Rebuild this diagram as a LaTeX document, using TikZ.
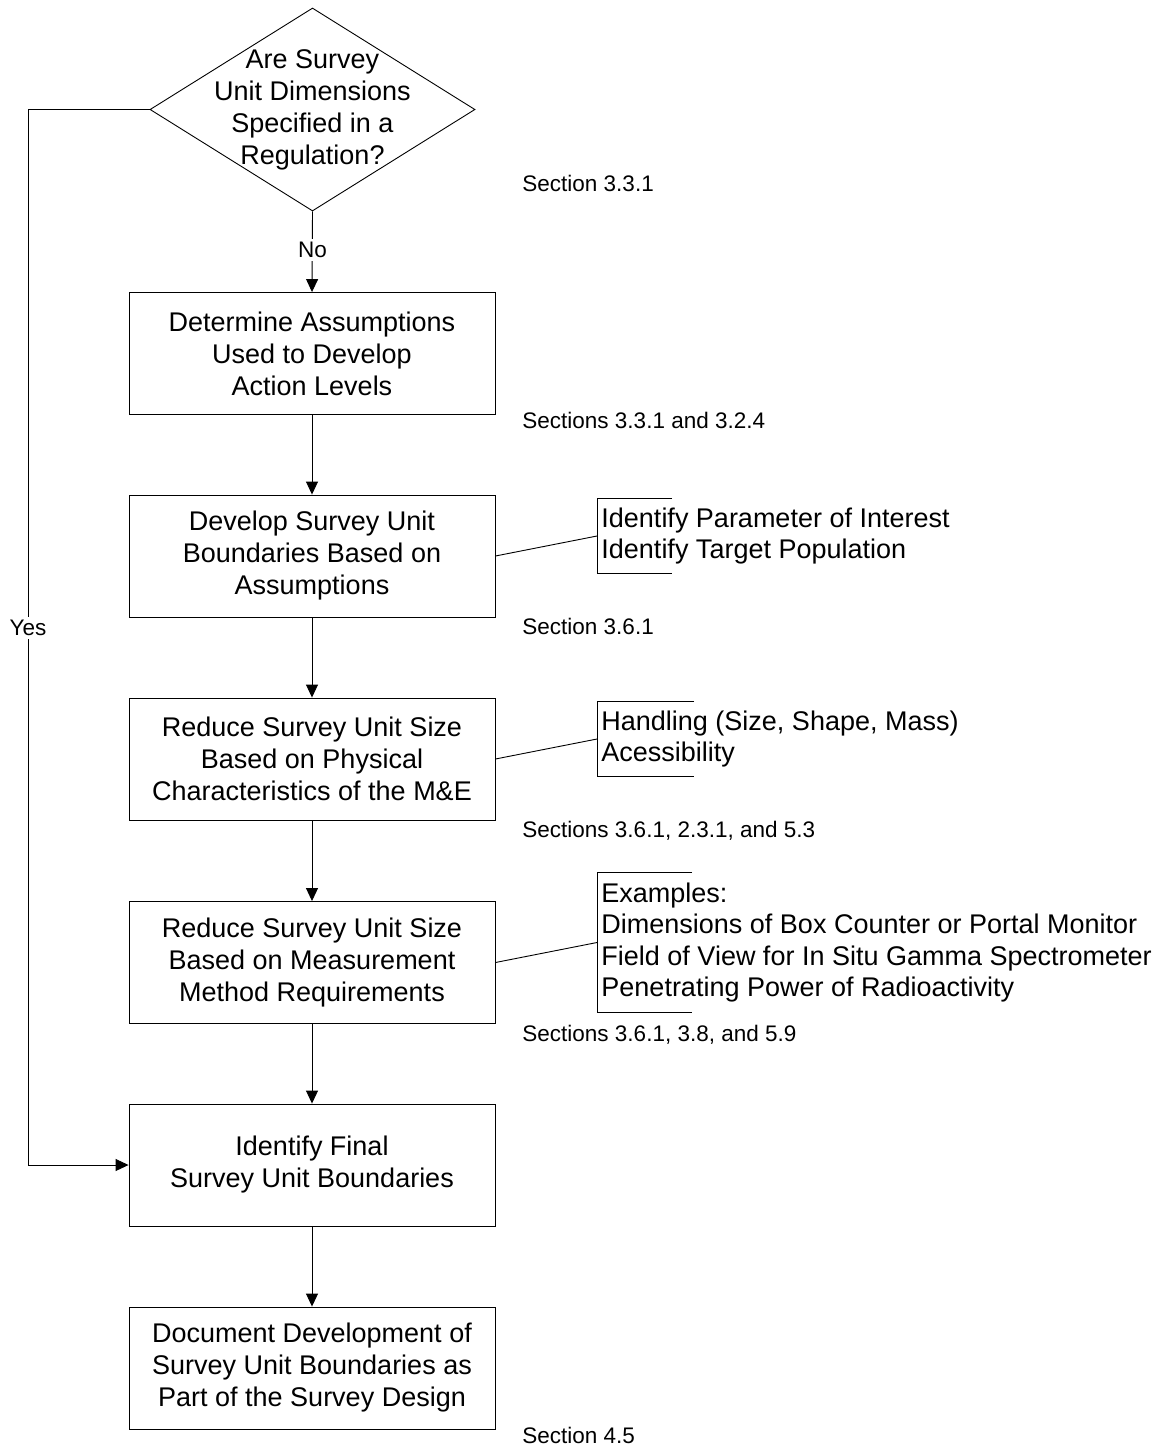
\documentclass[tikz,border=0pt]{standalone}
\usepackage{fontspec}
\setmainfont{Liberation Sans}
\usetikzlibrary{shapes.geometric,arrows.meta}
\begin{document}
\begin{tikzpicture}[x=1pt,y=-1pt,
  line width=0.9pt,
  >={Triangle[length=13pt,width=12pt]},
  procbox/.style={draw, minimum width=366pt, minimum height=122pt, inner sep=0pt,
     align=center, font=\fontsize{27}{32}\selectfont},
  decision/.style={draw, diamond, minimum width=325pt, minimum height=203pt, inner sep=0pt},
  dtext/.style={align=center, font=\fontsize{27}{32}\selectfont},
  seclabel/.style={anchor=west, inner sep=0pt, font=\fontsize{22.5}{26}\selectfont},
  yn/.style={fill=white, inner sep=3pt, font=\fontsize{22.5}{26}\selectfont},
  notes/.style={anchor=west, inner sep=0pt, inner xsep=4pt, align=left,
     font=\fontsize{27}{31.5}\selectfont},
  conn/.style={line width=0.9pt},
  brk/.style={line width=0.9pt}
]
\useasboundingbox (0,0) rectangle (1159,1446);

% decision
\node[decision] (d) at (312.5,109.5) {};
\node[dtext] (dt) at (d.center) {Are Survey\\Unit Dimensions\\Specified in a\\Regulation?};

% process boxes
\node[procbox] (b1) at (312,353.5) {Determine Assumptions\\Used to Develop\\Action Levels};
\node[procbox] (b2) at (312,556) {Develop Survey Unit\\Boundaries Based on\\Assumptions};
\node[procbox] (b3) at (312,759) {Reduce Survey Unit Size\\Based on Physical\\Characteristics of the M\&E};
\node[procbox] (b4) at (312,962.5) {Reduce Survey Unit Size\\Based on Measurement\\Method Requirements};
\node[procbox] (b5) at (312,1165) {Identify Final\\Survey Unit Boundaries};
\node[procbox] (b6) at (312,1368) {Document Development of\\Survey Unit Boundaries as\\Part of the Survey Design};

% section labels
\node[seclabel] (s1) at (522,183) {Section 3.3.1};
\node[seclabel] (s2) at (522,420) {Sections 3.3.1 and 3.2.4};
\node[seclabel] (s3) at (522,626) {Section 3.6.1};
\node[seclabel] (s4) at (522,831) {Sections 3.6.1, 2.3.1, and 5.3};
\node[seclabel] (s5) at (522,1035) {Sections 3.6.1, 3.8, and 5.9};
\node[seclabel] (s6) at (522,1435) {Section 4.5};

% note brackets
\node[notes, minimum height=74pt] (n1) at (597,536) {Identify Parameter of Interest\\Identify Target Population};
\node[notes, minimum height=74pt] (n2) at (597,739) {Handling (Size, Shape, Mass)\\Acessibility};
\node[notes, minimum height=139pt] (n3) at (597,942.5) {Examples:\\Dimensions of Box Counter or Portal Monitor\\Field of View for In Situ Gamma Spectrometer\\Penetrating Power of Radioactivity};

\draw[brk] ([xshift=75pt]n1.north west) -- (n1.north west) -- (n1.south west) -- ++(75,0);
\draw[brk] ([xshift=97pt]n2.north west) -- (n2.north west) -- (n2.south west) -- ++(97,0);
\draw[brk] ([xshift=95pt]n3.north west) -- (n3.north west) -- (n3.south west) -- ++(95,0);

\draw[conn] (b2.east) -- (n1.west);
\draw[conn] (b3.east) -- (n2.west);
\draw[conn] (b4.east) -- (n3.west);

% flow connectors
\coordinate (yc) at (28,109.5);
\draw[conn,->] (d.south) -- (b1.north);
\node[yn] (no) at (312.5,250) {No};
\draw[conn,->] (b1.south) -- (b2.north);
\draw[conn,->] (b2.south) -- (b3.north);
\draw[conn,->] (b3.south) -- (b4.north);
\draw[conn,->] (b4.south) -- (b5.north);
\draw[conn,->] (b5.south) -- (b6.north);
\draw[conn,->] (d.west) -- (yc) |- (b5.west);
\node[yn] (yes) at (28,628) {Yes};
\end{tikzpicture}
\end{document}
